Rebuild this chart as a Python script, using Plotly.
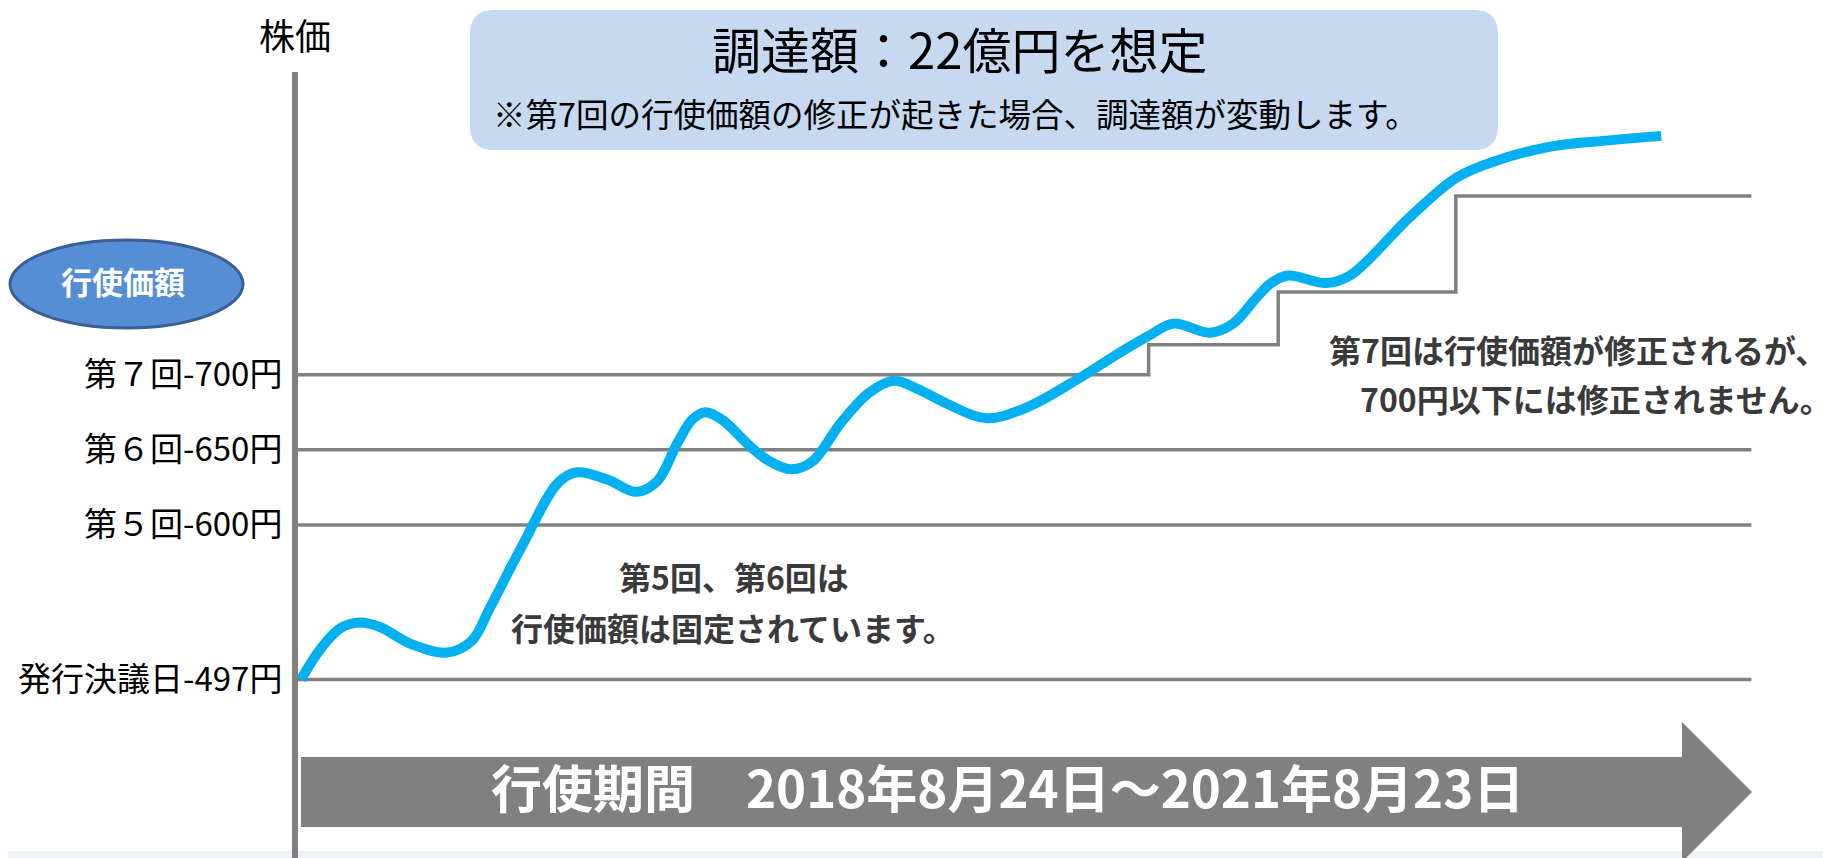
import plotly.graph_objects as go

# ---------------- data ----------------
# time index across exercise period (0 = start, 100 = end), price in yen
curve_t = [0.38, 1.69, 3.06, 4.37, 5.81, 7.87, 10.41, 12.13, 13.37, 15.57, 18.04, 19.35,
           21.47, 23.40, 24.84, 26.21, 27.24, 28.14, 29.31, 31.16, 32.46, 34.04, 35.48,
           37.47, 39.40, 41.11, 42.83, 44.68, 47.43, 50.18, 53.89, 56.50, 58.63, 60.28,
           62.82, 64.40, 65.98, 67.01, 68.18, 70.79, 72.43, 76.55, 79.71, 82.33, 86.30,
           90.23, 93.80]
curve_price = [497, 517, 531, 535, 532, 521, 515, 523, 545, 586, 628, 635,
               630, 622, 629, 654, 670, 675, 670, 653, 643, 637, 642,
               668, 688, 696, 690, 681, 671, 678, 698, 714, 726, 734,
               728, 734, 751, 761, 766, 761, 766, 805, 831, 842, 852,
               856, 859]

fixed_prices = [497, 600, 650]
line_t = [0, 100]

step_t = [0, 58.6, 67.5, 79.7, 100]
step_price = [700, 720, 755, 819, 819]

tick_vals = [497, 600, 650, 700]
tick_text = ["発行決議日-497円", "第５回-600円", "第６回-650円", "第７回-700円"]

# ---------------- layout helpers ----------------
W, H = 1831, 858
OFF = 8                      # page offset of the figure inside the browser window
ML, MT = 290, 64
PL, PT = ML + OFF, MT + OFF  # plot area edges in window pixels
PR, PB = W + OFF, H + OFF
FONT = "Noto Sans CJK JP"


def PX(x):
    return (x - PL) / (PR - PL)


def PY(y):
    return (PB - y) / (PB - PT)


def path(points, close=True):
    s = ""
    for cmd, pts in points:
        s += cmd + " " + " ".join(f"{PX(a):.5f},{PY(b):.5f}" for a, b in pts) + " "
    return s + ("Z" if close else "")


def rounded_rect(x0, y0, x1, y1, r):
    return path([
        ("M", [(x0 + r, y0)]), ("L", [(x1 - r, y0)]), ("Q", [(x1, y0), (x1, y0 + r)]),
        ("L", [(x1, y1 - r)]), ("Q", [(x1, y1), (x1 - r, y1)]),
        ("L", [(x0 + r, y1)]), ("Q", [(x0, y1), (x0, y1 - r)]),
        ("L", [(x0, y0 + r)]), ("Q", [(x0, y0), (x0 + r, y0)]),
    ])


GRAY = "#808080"

fig = go.Figure()

for p in fixed_prices:
    fig.add_trace(go.Scatter(x=line_t, y=[p, p], mode="lines",
                             line=dict(color=GRAY, width=3.5), hoverinfo="skip"))

fig.add_trace(go.Scatter(x=step_t, y=step_price, mode="lines",
                         line=dict(color=GRAY, width=3.5, shape="hv"), hoverinfo="skip"))

fig.add_trace(go.Scatter(x=curve_t, y=curve_price, mode="lines",
                         line=dict(color="#00B0F0", width=10, shape="spline", smoothing=1.0),
                         hoverinfo="skip"))

arrow_pts = [(301, 757), (1682, 757), (1682, 722), (1752, 792), (1682, 862), (1682, 827), (301, 827)]
arrow_path = path([("M", [arrow_pts[0]])] + [("L", [pt]) for pt in arrow_pts[1:]])

shapes = [
    dict(type="rect", xref="paper", yref="paper", x0=PX(0), x1=PX(W + 20), y0=PY(H + 20), y1=PY(851),
         fillcolor="#EEF2F7", line=dict(width=0), layer="below"),
    dict(type="path", xref="paper", yref="paper", path=rounded_rect(470, 10, 1498, 150, 24),
         fillcolor="#C6D9F0", line=dict(width=0), layer="below"),
    dict(type="circle", xref="paper", yref="paper", x0=PX(10), x1=PX(243), y0=PY(328), y1=PY(240),
         fillcolor="#558ED5", line=dict(color="#3A5F94", width=3)),
    dict(type="path", xref="paper", yref="paper", path=arrow_path,
         fillcolor=GRAY, line=dict(width=0)),
]


def ann(text, x, y, size, color="#000000", weight="normal", xanchor="center"):
    return dict(text=text, x=PX(x), y=PY(y), xref="paper", yref="paper", showarrow=False,
                xanchor=xanchor, yanchor="middle",
                font=dict(family=FONT, size=size, color=color, weight=weight))


DARK = "#3A3A3A"
annotations = [
    ann("株価", 295, 34, 36),
    ann("調達額：22億円を想定", 959, 48, 49),
    ann("※第7回の行使価額の修正が起きた場合、調達額が変動します。", 955, 112, 32.5),
    ann("行使価額", 123, 280, 31, "#FFFFFF", "bold"),
    ann("第5回、第6回は", 734, 576, 32, DARK, "bold"),
    ann("行使価額は固定されています。", 733, 627, 32, DARK, "bold"),
    ann("第7回は行使価額が修正されるが、", 1829, 349, 32, DARK, "bold", "right"),
    ann("700円以下には修正されません。", 1596, 398, 32, DARK, "bold"),
    ann("行使期間　2018年8月24日～2021年8月23日", 1007, 786, 51, "#FFFFFF", "bold"),
]

x_lo = (PL - 295.4) / 14.56
x_hi = (PR - 295.4) / 14.56
y_lo = 497 - (PB - 679.6) / 1.502
y_hi = 497 + (679.6 - PT) / 1.502

fig.update_layout(
    width=W, height=H,
    margin=dict(l=ML, r=0, t=MT, b=0, pad=0),
    paper_bgcolor="white", plot_bgcolor="white",
    showlegend=False,
    shapes=shapes,
    annotations=annotations,
    xaxis=dict(range=[x_lo, x_hi], visible=False, fixedrange=True),
    yaxis=dict(range=[y_lo, y_hi], showgrid=False, zeroline=False,
               showline=True, linecolor=GRAY, linewidth=6,
               tickmode="array", tickvals=tick_vals, ticktext=tick_text,
               ticks="", ticklabelstandoff=3,
               tickfont=dict(family=FONT, size=33, color="#000000"), fixedrange=True),
    font=dict(family=FONT),
)

fig.write_html("out.html")
